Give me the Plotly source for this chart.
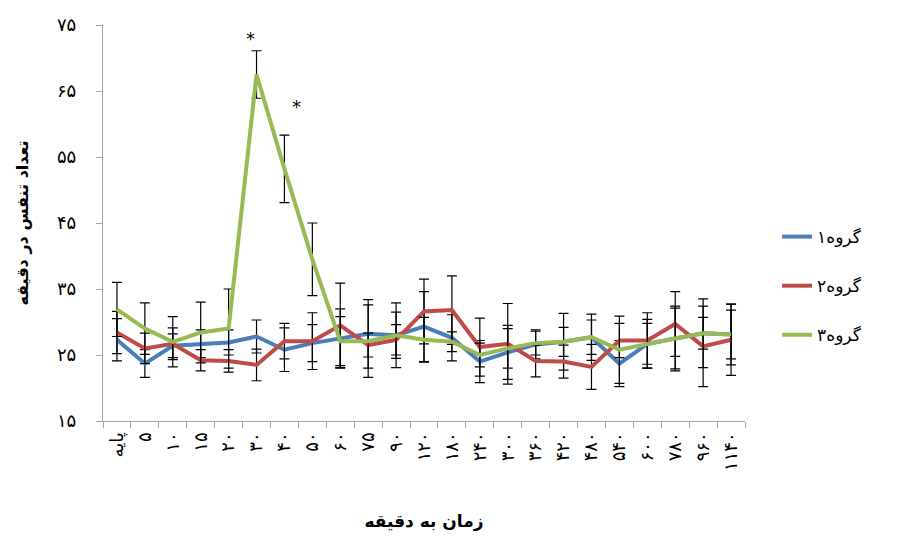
import plotly.graph_objects as go

categories = ["پایه", "۵", "۱۰", "۱۵", "۲۰", "۳۰", "۴۰", "۵۰", "۶۰", "۷۵", "۹۰", "۱۲۰",
              "۱۸۰", "۲۴۰", "۳۰۰", "۳۶۰", "۴۲۰", "۴۸۰", "۵۴۰", "۶۰۰", "۷۸۰", "۹۶۰", "۱۱۴۰"]

g1 = [27.3, 23.7, 26.4, 26.7, 26.9, 27.8, 25.8, 26.8, 27.5, 28.2, 28.0, 29.3,
      27.6, 24.0, 25.4, 26.6, 27.0, 27.7, 23.7, 26.7, 27.5, 28.3, 28.1]
g1_err = [3.2, 2.1, 1.8, 2.1, 1.9, 2.5, 3.3, 2.8, 4.5, 5.2, 4.9, 5.3,
          3.5, 3.2, 4.1, 2.2, 4.3, 3.5, 3.5, 3.7, 4.9, 2.4, 3.7]

g2 = [28.4, 26.0, 26.7, 24.2, 24.1, 23.5, 27.1, 27.1, 29.5, 26.5, 27.3, 31.6,
      31.8, 26.2, 26.7, 24.1, 24.0, 23.2, 27.2, 27.2, 29.7, 26.3, 27.3]
g2_err = [3.2, 2.3, 2.4, 1.6, 1.7, 2.4, 2.7, 4.3, 6.4, 1.8, 2.3, 4.9,
          5.2, 4.4, 6.1, 2.4, 2.5, 3.4, 2.6, 4.2, 4.9, 6.1, 5.4]

g3 = [31.9, 29.0, 27.0, 28.4, 29.0, 67.5, 53.2, 39.5, 27.1, 27.1, 28.0, 27.3,
      27.0, 25.0, 26.0, 26.8, 27.0, 27.7, 25.8, 26.7, 27.5, 28.3, 28.1]
g3_err = [4.1, 3.9, 3.8, 4.6, 6.0, 3.6, 5.1, 5.5, 3.7, 5.5, 3.5, 3.4,
          1.5, 1.8, 3.0, 1.8, 2.2, 2.6, 5.1, 3.1, 4.6, 5.2, 4.6]

series_names = ["گروه۱", "گروه۲", "گروه۳"]
series_colors = ["#4A7EBB", "#BE4B48", "#98B954"]

y_ticks = [15, 25, 35, 45, 55, 65, 75]
y_ticktext = ["۱۵", "۲۵", "۳۵", "۴۵", "۵۵", "۶۵", "۷۵"]

# significance markers (x as fractional category index, y value)
star_x = [4.79, 6.43]
star_y = [73.0, 62.6]

fig = go.Figure()
for name, vals, errs, col in zip(series_names, [g1, g2, g3], [g1_err, g2_err, g3_err], series_colors):
    fig.add_trace(go.Scatter(
        x=categories, y=vals, name=name, mode="lines",
        line=dict(color=col, width=4),
        legendgroup=name,
        error_y=dict(type="data", array=errs, visible=True, color="#000000",
                     thickness=1.2, width=5),
    ))

for sx, sy in zip(star_x, star_y):
    fig.add_annotation(x=sx, y=sy, text="*", showarrow=False,
                       font=dict(size=18, color="#000000", family="DejaVu Sans"))

fig.update_layout(
    width=887, height=528,
    margin=dict(l=95, r=150, t=17, b=115),
    paper_bgcolor="white", plot_bgcolor="white",
    font=dict(family="DejaVu Sans", color="#000000"),
    showlegend=True,
    legend=dict(x=1.05, xanchor="left", y=0.51, yanchor="top",
                traceorder="grouped", tracegroupgap=24,
                font=dict(size=17, color="#000000"),
                bgcolor="rgba(0,0,0,0)"),
    xaxis=dict(
        type="category", categoryorder="array", categoryarray=categories,
        range=[-0.5, 22.5], automargin=False,
        showline=True, linecolor="#A6A6A6", linewidth=1.3,
        ticks="outside", tickson="boundaries", ticklen=6, tickcolor="#A6A6A6",
        tickangle=-90, tickfont=dict(size=18), ticklabelstandoff=3,
        showgrid=False, zeroline=False,
        title=dict(text="<b>زمان به دقیقه</b>", font=dict(size=17), standoff=45),
    ),
    yaxis=dict(
        range=[15, 75], tickvals=y_ticks, ticktext=y_ticktext, automargin=False,
        showline=True, linecolor="#A6A6A6", linewidth=1.3,
        ticks="outside", ticklen=6, tickcolor="#A6A6A6",
        tickfont=dict(size=18), ticklabelstandoff=16,
        showgrid=False, zeroline=False,
        title=dict(text="<b>تعداد تنفس در دقیقه</b>", font=dict(size=16), standoff=24),
    ),
)

fig.write_html("out.html")
